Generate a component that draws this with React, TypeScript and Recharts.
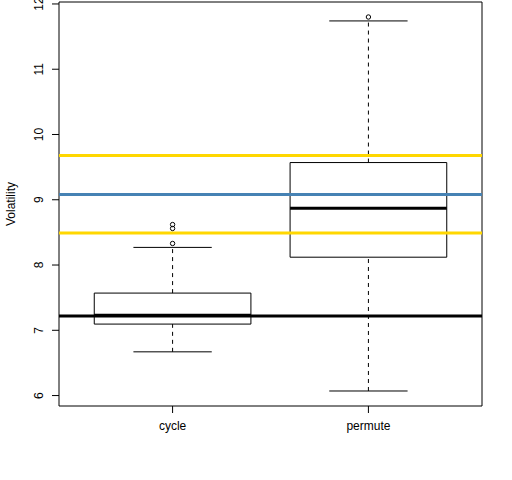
import React from 'react';
import { ComposedChart, XAxis, YAxis, Scatter, ReferenceLine, ReferenceArea, Label } from 'recharts';

// ---- data ----
const categories = ['cycle', 'permute'];
const lowerWhisker = [6.67, 6.07];
const q1 = [7.095, 8.12];
const median = [7.23, 8.87];
const q3 = [7.57, 9.57];
const upperWhisker = [8.27, 11.74];
const outlierGroup = [1, 1, 1, 2];
const outlierValue = [8.33, 8.56, 8.62, 11.8];
const hLineValues = [9.68, 9.08, 8.49, 7.22];
const yTicks = [6, 7, 8, 9, 10, 11, 12];

// ---- styles ----
const hLineColors = ['#FFD700', '#4682B4', '#FFD700', '#000000'];
const FONT = '"Liberation Sans", Arial, sans-serif';
const BOX_HALF = 0.4;
const CAP_HALF = 0.2;

const outliers = outlierGroup.map((g, i) => ({ x: g, y: outlierValue[i] }));

const OpenCircle = (props: any) => {
  const { cx, cy } = props;
  if (cx == null || cy == null) return null;
  return <circle cx={cx} cy={cy} r={2.2} fill="none" stroke="#000" strokeWidth={1} />;
};

const YTick = (props: any) => {
  const { x, y, payload } = props;
  return (
    <text
      x={x - 7}
      y={y}
      transform={`rotate(-90 ${x - 7} ${y})`}
      textAnchor="middle"
      fontFamily={FONT}
      fontSize={12}
      fill="#000"
    >
      {payload.value}
    </text>
  );
};

const XTick = (props: any) => {
  const { x, y, payload } = props;
  return (
    <text x={x} y={y + 15} textAnchor="middle" fontFamily={FONT} fontSize={12} fill="#000">
      {categories[payload.value - 1]}
    </text>
  );
};

const YLabel = (props: any) => {
  const vb = props.viewBox || {};
  const cy = (vb.y ?? 0) + (vb.height ?? 0) / 2;
  const bx = 15;
  return (
    <text
      x={bx}
      y={cy}
      transform={`rotate(-90 ${bx} ${cy})`}
      textAnchor="middle"
      fontFamily={FONT}
      fontSize={12}
      fill="#000"
    >
      Volatility
    </text>
  );
};

export default function App() {
  return (
    <div style={{ position: 'absolute', left: 0, top: 0, width: 512, height: 480, background: '#fff' }}>
      <ComposedChart width={512} height={480} margin={{ top: 2, right: 30, left: 0, bottom: 0 }}>
        <XAxis
          type="number"
          dataKey="x"
          domain={[0.42, 2.58]}
          ticks={[1, 2]}
          allowDataOverflow
          axisLine={false}
          tickLine={{ stroke: '#000' }}
          tickSize={7}
          height={74}
          tick={<XTick />}
          interval={0}
        />
        <YAxis
          type="number"
          dataKey="y"
          domain={[5.84, 12.03]}
          ticks={yTicks}
          allowDataOverflow
          axisLine={false}
          tickLine={{ stroke: '#000' }}
          tickSize={7}
          width={59}
          tick={<YTick />}
          interval={0}
        >
          <Label content={<YLabel />} />
        </YAxis>

        {categories.map((c, i) => {
          const cx = i + 1;
          return (
            <React.Fragment key={c}>
              <ReferenceLine
                segment={[{ x: cx, y: lowerWhisker[i] }, { x: cx, y: q1[i] }]}
                stroke="#000"
                strokeWidth={1}
                strokeDasharray="4 4"
              />
              <ReferenceLine
                segment={[{ x: cx, y: q3[i] }, { x: cx, y: upperWhisker[i] }]}
                stroke="#000"
                strokeWidth={1}
                strokeDasharray="4 4"
              />
              <ReferenceLine
                segment={[{ x: cx - CAP_HALF, y: lowerWhisker[i] }, { x: cx + CAP_HALF, y: lowerWhisker[i] }]}
                stroke="#000"
                strokeWidth={1}
              />
              <ReferenceLine
                segment={[{ x: cx - CAP_HALF, y: upperWhisker[i] }, { x: cx + CAP_HALF, y: upperWhisker[i] }]}
                stroke="#000"
                strokeWidth={1}
              />
              <ReferenceArea
                x1={cx - BOX_HALF}
                x2={cx + BOX_HALF}
                y1={q1[i]}
                y2={q3[i]}
                fill="#fff"
                fillOpacity={1}
                stroke="#000"
                strokeWidth={1}
              />
              <ReferenceLine
                segment={[{ x: cx - BOX_HALF, y: median[i] }, { x: cx + BOX_HALF, y: median[i] }]}
                stroke="#000"
                strokeWidth={3}
              />
            </React.Fragment>
          );
        })}

        <Scatter data={outliers} isAnimationActive={false} shape={<OpenCircle />} />

        {hLineValues.map((v, i) => (
          <ReferenceLine key={i} y={v} stroke={hLineColors[i]} strokeWidth={3} />
        ))}

        <ReferenceArea
          x1={0.42}
          x2={2.58}
          y1={5.84}
          y2={12.03}
          fill="none"
          stroke="#000"
          strokeWidth={1}
          ifOverflow="visible"
        />
      </ComposedChart>
    </div>
  );
}
